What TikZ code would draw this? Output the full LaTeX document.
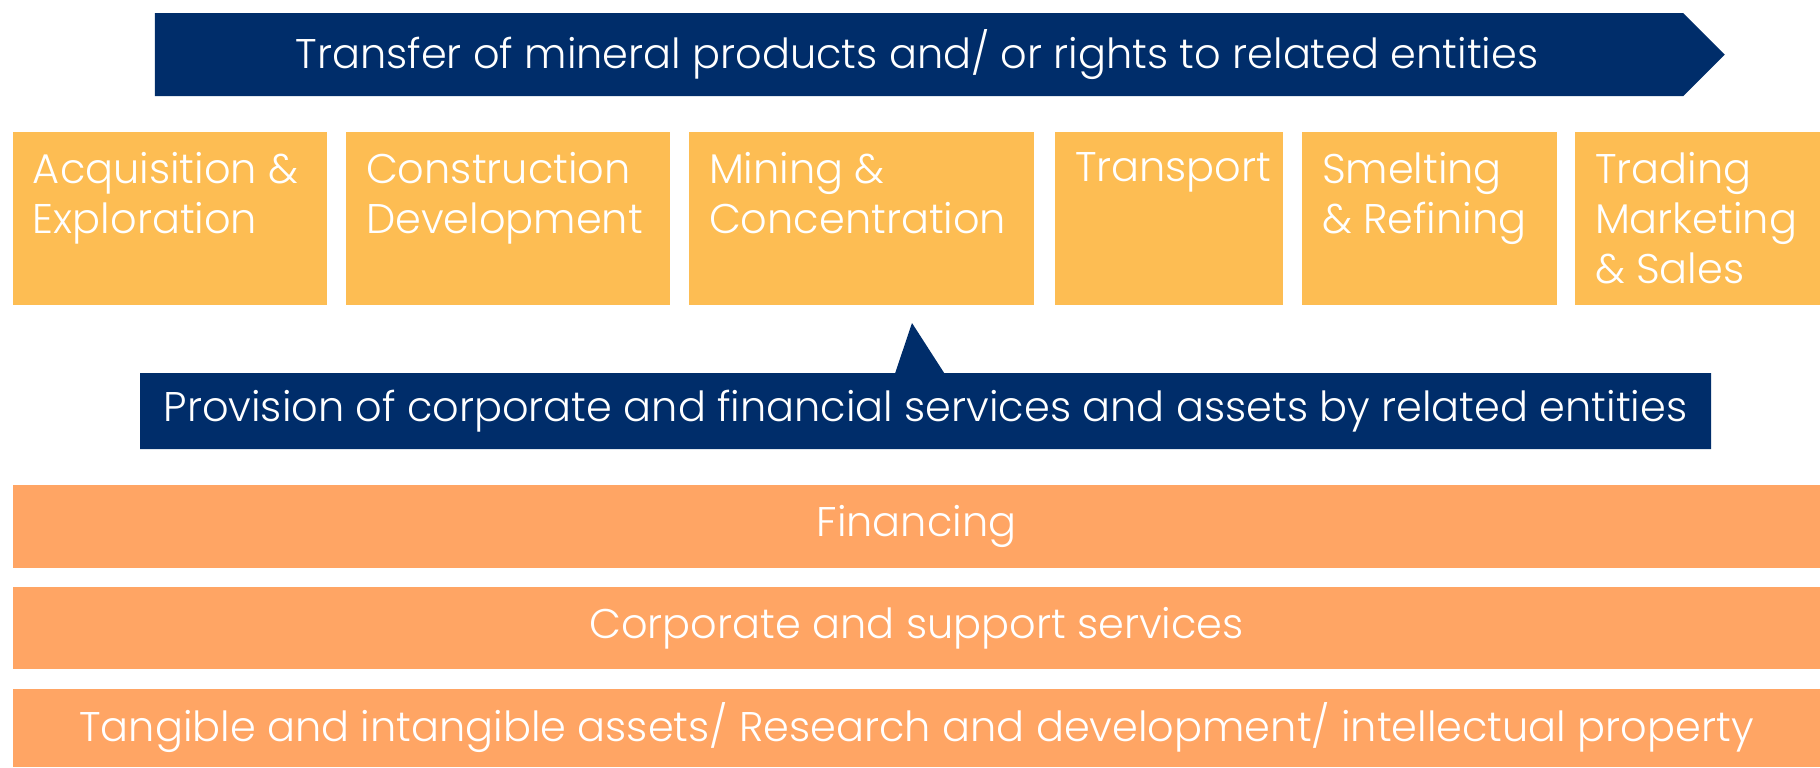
\documentclass[tikz,border=0pt]{standalone}
\usepackage{fontspec}
\setmainfont{Poppins}[UprightFont=* Light]
\usetikzlibrary{shapes.symbols,shapes.callouts}

\definecolor{navy}{RGB}{0,45,106}
\definecolor{stageyellow}{RGB}{253,189,83}
\definecolor{bandorange}{RGB}{255,165,100}

\begin{document}
\begin{tikzpicture}[>=stealth,
		banner/.style={fill=navy,text=white,inner sep=0pt},
		stage/.style={rectangle,fill=stageyellow,minimum height=1.73cm,inner sep=0pt},
		stagetext/.style={anchor=north west,align=left,text=white,inner sep=0pt,xshift=0.2cm,yshift=-0.2cm},
		band/.style={rectangle,fill=bandorange,text=white,minimum width=18.07cm,inner sep=0pt}
		]
	\useasboundingbox (0,0) rectangle (18.2,-7.67);
	\tikzset{every node/.append style={font=\fontsize{11.8}{14.2}\selectfont}}

	% Felső sáv - átadás
	% ----------------------
	\node[banner,signal,signal to=east,signal pointer angle=90,minimum width=15.70cm,minimum height=0.83cm] (transfer) at (9.19,-0.545) {};
	\node[text=white] (transfertext) at (9.17,-0.545) {Transfer of mineral products and/ or rights to related entities};

	% Értéklánc lépései
	% ----------------------
	\node[stage,minimum width=3.14cm,label={[stagetext]north west:Acquisition \&\\Exploration}] (acq) at (1.70,-2.185) {};
	\node[stage,minimum width=3.24cm,label={[stagetext]north west:Construction\\Development}] (constr) at (5.08,-2.185) {};
	\node[stage,minimum width=3.45cm,label={[stagetext]north west:Mining \&\\Concentration}] (mining) at (8.615,-2.185) {};
	\node[stage,minimum width=2.28cm,label={[stagetext]north west:Transport}] (transport) at (11.69,-2.185) {};
	\node[stage,minimum width=2.55cm,label={[stagetext]north west:Smelting\\\& Refining}] (smelting) at (14.295,-2.185) {};
	\node[stage,minimum width=2.45cm,label={[stagetext]north west:Trading\\Marketing\\\& Sales}] (trading) at (16.975,-2.185) {};

	% Alsó sáv - szolgáltatások
	% ----------------------
	\coordinate (tip) at (9.12,-3.23);
	\node[banner,rectangle callout,callout absolute pointer=(tip),callout pointer width=0.49cm,minimum width=15.71cm,minimum height=0.76cm] (provision) at (9.255,-4.11) {Provision of corporate and financial services and assets by related entities};

	% Kapcsolt szolgáltatások
	\node[band,minimum height=0.83cm] (financing) at (9.165,-5.265) {Financing};
	\node[band,minimum height=0.82cm] (corporate) at (9.165,-6.28) {Corporate and support services};
	\node[band,minimum height=0.78cm] (assets) at (9.165,-7.28) {Tangible and intangible assets/ Research and development/ intellectual property};

\end{tikzpicture}
\end{document}
